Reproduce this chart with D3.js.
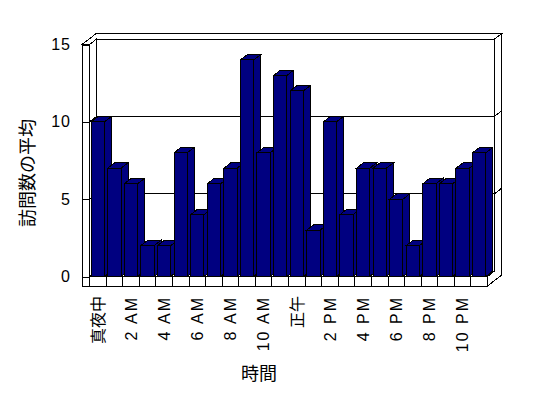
<!DOCTYPE html>
<html>
<head>
<meta charset="utf-8">
<script src="https://cdn.jsdelivr.net/npm/d3@7"></script>
<style>
  body { margin: 0; background: #fff; }
  svg { display: block; }
</style>
</head>
<body>
<svg width="548" height="398"></svg>
<script>
// data
var hours = ["真夜中", "1 AM", "2 AM", "3 AM", "4 AM", "5 AM", "6 AM", "7 AM", "8 AM", "9 AM", "10 AM", "11 AM",
  "正午", "1 PM", "2 PM", "3 PM", "4 PM", "5 PM", "6 PM", "7 PM", "8 PM", "9 PM", "10 PM", "11 PM"];
var visits = [10, 7, 6, 2, 2, 8, 4, 6, 7, 14, 8, 13, 12, 3, 10, 4, 7, 7, 5, 2, 6, 6, 7, 8];
var yTicks = [0, 5, 10, 15];
var yTitle = "訪問数の平均";
var xTitle = "時間";

var svg = d3.select("svg");
var latin = "Arimo, 'Liberation Sans', Arial, sans-serif";
var jp = "'Noto Sans CJK JP', sans-serif";

// front plane of the 3d box
var left = 89.5, right = 487.5, outerLeft = 82,
  zeroY = 276.5, topY = 44.5, floorH = 9.5,
  dx = 7, dy = -5.4; // depth offset for one step back

var x = d3.scaleBand().domain(hours).range([left, right]).paddingInner(0.2).paddingOuter(0.1);
var y = d3.scaleLinear().domain([0, 15]).range([zeroY, topY]);

function poly(pts) {
  return "M" + pts.map(function(p) { return p[0] + "," + p[1]; }).join("L") + "Z";
}

var g = svg.append("g").attr("shape-rendering", "crispEdges");
function face(pts, fill) {
  g.append("path").attr("d", poly(pts)).attr("fill", fill).attr("stroke", "#000").attr("stroke-width", 1);
}

var y15 = y(15), y0 = y(0);

// walls
face([[outerLeft, y15], [outerLeft + 2 * dx, y15 + 2 * dy], [right + 2 * dx, y15 + 2 * dy],
  [right + dx, y15 + dy], [left + dx, y15 + dy], [left, y15]], "#fff");
face([[left + dx, y15 + dy], [right + dx, y15 + dy], [right + dx, y0 + dy], [left + dx, y0 + dy]], "#fff");
face([[right + dx, y15 + dy], [right + 2 * dx, y15 + 2 * dy], [right + 2 * dx, y0 + floorH + 2 * dy],
  [right, y0 + floorH], [right, y0], [right + dx, y0 + dy]], "#fff");
face([[left, y15], [left + dx, y15 + dy], [left + dx, y0 + dy], [left, y0]], "#fff");

// gridlines on back wall
yTicks.filter(function(v) { return v > 0 && v < 15; }).forEach(function(v) {
  var yy = y(v);
  g.append("path")
    .attr("d", "M" + left + "," + yy + "L" + (left + dx) + "," + (yy + dy) + "L" + (right + dx) + "," + (yy + dy) +
      "L" + (right + 2 * dx) + "," + (yy + 2 * dy))
    .attr("fill", "none").attr("stroke", "#000");
});

// floor
face([[left, y0], [right, y0], [right + dx, y0 + dy], [left + dx, y0 + dy]], "#fff");
face([[left, y0], [right, y0], [right, y0 + floorH], [left, y0 + floorH]], "#fff");
g.selectAll(".div")
  .data(hours.slice(1))
  .enter()
  .append("line")
  .attr("x1", function(d) { return x(d) - x.step() * x.paddingInner() / 2; })
  .attr("x2", function(d) { return x(d) - x.step() * x.paddingInner() / 2; })
  .attr("y1", y0)
  .attr("y2", y0 + floorH)
  .attr("stroke", "#000");

// left wall front face with ticks
face([[outerLeft, y15], [left, y15], [left, y0 + floorH], [outerLeft, y0 + floorH]], "#fff");
var axis = svg.append("g")
  .attr("shape-rendering", "crispEdges")
  .attr("transform", "translate(" + outerLeft + ",0)")
  .call(d3.axisLeft(y).tickValues(yTicks).tickSize(-(left - outerLeft)).tickPadding(11));
axis.attr("font-size", 16).attr("font-family", latin);
axis.select(".domain").remove();
axis.selectAll(".tick line").attr("stroke", "#000");
axis.selectAll(".tick text")
  .attr("letter-spacing", 1)
  .attr("fill", "#000");

// bars
var bw = x.bandwidth();
hours.forEach(function(h, i) {
  var bx = x(h), by = y(visits[i]);
  face([[bx + bw, by], [bx + bw + dx, by + dy], [bx + bw + dx, y0 + dy], [bx + bw, y0]], "#000080");
  face([[bx, by], [bx + bw, by], [bx + bw + dx, by + dy], [bx + dx, by + dy]], "#000080");
  face([[bx, by], [bx + bw, by], [bx + bw, y0], [bx, y0]], "#000080");
});

// x labels, every other hour
var cjk = /[\u3000-\u9fff]/;
svg.selectAll(".xl")
  .data(hours.filter(function(d, i) { return i % 2 === 0; }))
  .enter()
  .append("text")
  .attr("transform", function(d) { return "translate(" + (x(d) + bw / 2) + ",296) rotate(-90)"; })
  .attr("text-anchor", "end")
  .attr("dy", "0.36em")
  .attr("font-family", function(d) { return cjk.test(d) ? jp : latin; })
  .attr("font-size", 16)
  .attr("letter-spacing", function(d) { return cjk.test(d) ? 0 : 2; })
  .attr("fill", "#000")
  .text(function(d) { return d; });

// titles
svg.append("text")
  .attr("transform", "translate(28,173) rotate(-90)")
  .attr("text-anchor", "middle")
  .attr("dy", "0.35em")
  .attr("font-family", jp)
  .attr("font-size", 18)
  .attr("fill", "#000")
  .text(yTitle);

svg.append("text")
  .attr("x", 259)
  .attr("y", 374)
  .attr("text-anchor", "middle")
  .attr("dy", "0.35em")
  .attr("font-family", jp)
  .attr("font-size", 18)
  .attr("fill", "#000")
  .text(xTitle);
</script>
</body>
</html>
